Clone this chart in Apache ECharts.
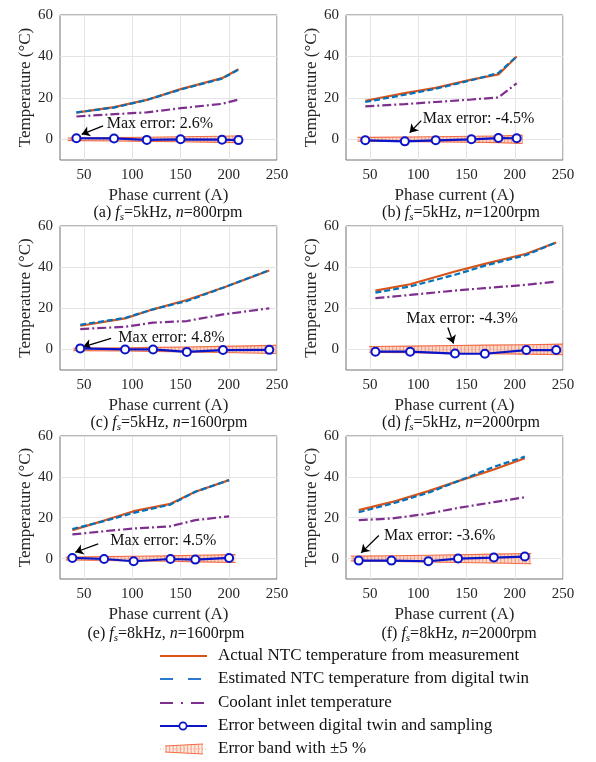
<!DOCTYPE html>
<html><head><meta charset="utf-8">
<script src="https://cdn.jsdelivr.net/npm/echarts@6/dist/echarts.min.js"></script>
<style>html,body{margin:0;padding:0;background:#fff}#c{width:596px;height:762px}</style>
</head><body><div id="c"></div>
<script>
// ---------- tick labels ----------
const xTicks = [50, 100, 150, 200, 250];
const yTicks = [0, 20, 40, 60];

// ---------- captions / annotations ----------
const panelLabels = ['a', 'b', 'c', 'd', 'e', 'f'];
const switchFreq = ['5kHz', '5kHz', '5kHz', '5kHz', '8kHz', '8kHz'];
const speeds = ['800rpm', '1200rpm', '1600rpm', '2000rpm', '1600rpm', '2000rpm'];
const maxErrors = ['2.6%', '-4.5%', '4.8%', '-4.3%', '4.5%', '-3.6%'];
const annoTextPos = [[73, 7.4], [104, 9.7], [85, 5.7], [87, 14.8], [76.5, 8.5], [63.8, 11.3]];
const annoArrowTail = [[69.7, 6.5], [103, 9], [78, 5.4], [130.6, 10.7], [64.6, 7.2], [59, 11.3]];
const annoArrowTip = [[47.5, 2.4], [91, 3.2], [49, 1.3], [136.5, 2.9], [40.8, 3.1], [40.7, 2.8]];

// ---------- (a) fs=5kHz, n=800rpm ----------
const currentA   = [42, 81, 115, 150, 193, 210];
const actualA    = [12.9, 15.5, 19, 24.2, 29.5, 33.8];
const estimatedA = [13, 15.3, 19, 24, 29.3, 33.6];
const coolantA   = [11, 12.1, 13, 15, 17.1, 19.2];
const errorA     = [0.5, 0.4, -0.3, 0, -0.2, -0.4];
const bandXA     = [33, 42, 81, 115, 150, 193, 214];
const bandHalfA  = [0.6, 0.65, 0.8, 1.0, 1.2, 1.5, 1.7];

// ---------- (b) fs=5kHz, n=1200rpm ----------
const currentB   = [45, 86, 118, 155, 183, 202];
const actualB    = [18.6, 22.3, 24.8, 28.8, 31.3, 40];
const estimatedB = [18, 21.5, 24.4, 28.5, 32, 40];
const coolantB   = [15.9, 17, 18, 19.2, 20.2, 27];
const errorB     = [-0.5, -1, -0.5, 0, 0.6, 0.5];
const bandXB     = [37, 45, 86, 118, 155, 183, 208];
const bandHalfB  = [0.9, 0.93, 1.1, 1.25, 1.45, 1.6, 2.0];

// ---------- (c) fs=5kHz, n=1600rpm ----------
const currentC   = [46, 92.5, 121.5, 156.5, 194, 242];
const actualC    = [11.5, 15.1, 19.5, 24, 30, 38.4];
const estimatedC = [12, 15.3, 19.5, 23.5, 30, 38.5];
const coolantC   = [9.9, 11, 13, 13.8, 17, 20];
const errorC     = [0.5, 0, 0, -1.2, -0.3, -0.2];
const bandXC     = [39, 46, 92.5, 121.5, 156.5, 194, 249];
const bandHalfC  = [0.6, 0.6, 0.75, 1.0, 1.2, 1.5, 1.95];

// ---------- (d) fs=5kHz, n=2000rpm ----------
const currentD   = [55.5, 91.5, 138, 169, 212, 243];
const actualD    = [28.6, 31.7, 37.9, 41.6, 46.5, 52];
const estimatedD = [27.6, 30.6, 36.3, 40.7, 45.9, 52];
const coolantD   = [24.9, 26.5, 28.6, 29.8, 31.4, 33];
const errorD     = [-1.1, -1.1, -2, -2.1, -0.3, -0.3];
const bandXD     = [49, 55.5, 91.5, 138, 169, 212, 250];
const bandHalfD  = [1.4, 1.43, 1.6, 1.9, 2.1, 2.3, 2.6];

// ---------- (e) fs=8kHz, n=1600rpm ----------
const currentE   = [37.8, 70.7, 101.4, 139.5, 165.3, 200.3];
const actualE    = [13.9, 18.6, 23.2, 26.8, 32.7, 38.4];
const estimatedE = [14.5, 18.3, 22.4, 26.4, 32.7, 38.4];
const coolantE   = [11.8, 13.4, 14.7, 15.8, 18.8, 20.7];
const errorE     = [0.3, -0.2, -1.3, -0.2, -0.5, 0.3];
const bandXE     = [31, 37.8, 70.7, 101.4, 139.5, 165.3, 207];
const bandHalfE  = [0.7, 0.7, 0.93, 1.16, 1.34, 1.64, 1.92];

// ---------- (f) fs=8kHz, n=2000rpm ----------
const currentF   = [38.2, 72.1, 110.4, 141.2, 178.3, 210.4];
const actualF    = [23.7, 27.6, 33, 37.9, 43.6, 49.1];
const estimatedF = [22.7, 26.8, 32.2, 37.9, 44.9, 49.9];
const coolantF   = [18.8, 19.6, 22, 24.8, 27.6, 30];
const errorF     = [-1, -1, -1.3, 0, 0.5, 1];
const bandXF     = [30, 38.2, 72.1, 110.4, 141.2, 178.3, 217];
const bandHalfF  = [1.2, 1.2, 1.4, 1.65, 1.9, 2.2, 2.5];

const legendNames = [
  'Actual NTC temperature from measurement',
  'Estimated NTC temperature from digital twin',
  'Coolant inlet temperature',
  'Error between digital twin and sampling',
  'Error band with \u00b15 %'
];

// ---------- assemble ----------
const panels = [
  {x: currentA, act: actualA, est: estimatedA, cool: coolantA, err: errorA, bx: bandXA, bh: bandHalfA},
  {x: currentB, act: actualB, est: estimatedB, cool: coolantB, err: errorB, bx: bandXB, bh: bandHalfB},
  {x: currentC, act: actualC, est: estimatedC, cool: coolantC, err: errorC, bx: bandXC, bh: bandHalfC},
  {x: currentD, act: actualD, est: estimatedD, cool: coolantD, err: errorD, bx: bandXD, bh: bandHalfD},
  {x: currentE, act: actualE, est: estimatedE, cool: coolantE, err: errorE, bx: bandXE, bh: bandHalfE},
  {x: currentF, act: actualF, est: estimatedF, cool: coolantF, err: errorF, bx: bandXF, bh: bandHalfF}
];

const FONT = '"Liberation Serif","Times New Roman",serif';
const C_ACT = '#D95319', C_EST = '#0072BD', C_COOL = '#7E2F8E', C_ERR = '#0A14C8', C_BAND = '#F26B43';
const gridLeft = [60, 346, 60, 346, 60, 346];
const gridTop = [15, 15, 226, 226, 436, 436];
const gridH = [145, 145, 144, 144, 143, 143];
const gridW = 217;
const capX = [168, 461, 169, 461, 166, 459];
const capY = [203, 203, 413, 413, 624, 624];

const zip = (a, b) => a.map((v, k) => [v, b[k]]);

const grids = [], xAxes = [], yAxes = [], series = [], titles = [];

panels.forEach((p, i) => {
  grids.push({left: gridLeft[i], top: gridTop[i], width: gridW, height: gridH[i],
    show: true, borderColor: '#707070', borderWidth: 1, backgroundColor: 'transparent'});
  xAxes.push({type: 'value', gridIndex: i, min: 25, max: 250,
    axisLine: {show: false}, axisTick: {show: false, customValues: xTicks},
    axisLabel: {customValues: xTicks, fontFamily: FONT, fontSize: 15, color: '#262626', margin: 8},
    splitLine: {show: true, lineStyle: {color: '#e4e4e4', width: 1}},
    name: 'Phase current (A)', nameLocation: 'middle', nameGap: 27,
    nameTextStyle: {fontFamily: FONT, fontSize: 17, color: '#262626'}});
  yAxes.push({type: 'value', gridIndex: i, min: -10, max: 60,
    axisLine: {show: false}, axisTick: {show: false, customValues: yTicks},
    axisLabel: {customValues: yTicks, fontFamily: FONT, fontSize: 15, color: '#262626', margin: 7},
    splitLine: {show: true, lineStyle: {color: '#e4e4e4', width: 1}},
    name: 'Temperature (\u00b0C)', nameLocation: 'middle', nameGap: 23,
    nameTextStyle: {fontFamily: FONT, fontSize: 17, color: '#262626'}});

  // error band (+/-5 %) with hatching
  const n = p.bx.length;
  series.push({
    type: 'custom', xAxisIndex: i, yAxisIndex: i, z: 1, silent: true,
    data: zip(p.bx, p.bh),
    encode: {x: 0, y: 1},
    renderItem: (params, api) => {
      const k = params.dataIndex;
      if (k >= n - 1) return null;
      const x0 = p.bx[k], x1 = p.bx[k + 1], h0 = p.bh[k], h1 = p.bh[k + 1];
      const a = api.coord([x0, h0]), b = api.coord([x0, -h0]);
      const c = api.coord([x1, h1]), d = api.coord([x1, -h1]);
      const children = [
        {type: 'polygon', shape: {points: [a, c, d, b]}, style: {fill: 'rgba(248,170,140,0.45)'}},
        {type: 'line', shape: {x1: a[0], y1: a[1], x2: c[0], y2: c[1]}, style: {stroke: C_BAND, lineWidth: 1.1}},
        {type: 'line', shape: {x1: b[0], y1: b[1], x2: d[0], y2: d[1]}, style: {stroke: C_BAND, lineWidth: 1.1}}
      ];
      const step = 3.6;
      const origin = gridLeft[i];
      let px = origin + Math.ceil((a[0] - origin) / step) * step;
      for (; px < c[0]; px += step) {
        const t = (px - a[0]) / (c[0] - a[0]);
        const top = a[1] + t * (c[1] - a[1]);
        const bot = b[1] + t * (d[1] - b[1]);
        children.push({type: 'line', shape: {x1: px, y1: top, x2: px, y2: bot},
          style: {stroke: 'rgba(242,107,67,0.85)', lineWidth: 0.7}});
      }
      return {type: 'group', children};
    }
  });
  series.push({type: 'line', xAxisIndex: i, yAxisIndex: i, z: 3, data: zip(p.x, p.cool),
    showSymbol: false, symbol: 'none', lineStyle: {color: C_COOL, width: 2.2, type: [9, 3, 2, 3]}});
  series.push({type: 'line', xAxisIndex: i, yAxisIndex: i, z: 4, data: zip(p.x, p.act),
    showSymbol: false, symbol: 'none', lineStyle: {color: C_ACT, width: 2.2}});
  series.push({type: 'line', xAxisIndex: i, yAxisIndex: i, z: 5, data: zip(p.x, p.est),
    showSymbol: false, symbol: 'none', lineStyle: {color: C_EST, width: 2.2, type: [6, 3]}});
  series.push({type: 'line', xAxisIndex: i, yAxisIndex: i, z: 6, data: zip(p.x, p.err),
    symbol: 'emptyCircle', symbolSize: 8, showSymbol: true,
    lineStyle: {color: C_ERR, width: 2.2},
    itemStyle: {color: C_ERR, borderColor: C_ERR, borderWidth: 1.8},
    markLine: {silent: true, symbol: ['none', 'arrow'], symbolSize: 8, animation: false,
      lineStyle: {color: '#000', width: 1.3, type: 'solid'}, label: {show: false},
      data: [[{coord: annoArrowTail[i]}, {coord: annoArrowTip[i]}]]},
    markPoint: {silent: true, animation: false,
      data: [{coord: annoTextPos[i], symbol: 'rect', symbolSize: 1,
        itemStyle: {color: 'rgba(0,0,0,0)'},
        label: {show: true, position: 'right', distance: 0, formatter: 'Max error: ' + maxErrors[i],
          fontFamily: FONT, fontSize: 16, color: '#111'}}]}
  });

  const base = {fontFamily: FONT, fontSize: 16, fontWeight: 'normal', color: '#111', lineHeight: 20};
  titles.push({
    left: capX[i], top: capY[i], textAlign: 'center', padding: 0,
    text: `{n|(${panelLabels[i]}) }{i|f}{s|s}{n|=${switchFreq[i]}, }{i|n}{n|=${speeds[i]}}`,
    textStyle: {fontWeight: 'normal', fontFamily: FONT, rich: {
      n: base,
      i: Object.assign({}, base, {fontStyle: 'italic'}),
      s: {fontFamily: FONT, fontSize: 11, fontWeight: 'normal', fontStyle: 'italic', color: '#111', lineHeight: 12, verticalAlign: 'bottom'}
    }}
  });
});

// ---------- legend (graphic) ----------
const rowY = [656, 679, 703, 726, 749];
const lx1 = 160, lx2 = 207, tx = 218;
const g = [];
g.push({type: 'line', shape: {x1: lx1, y1: rowY[0], x2: lx2, y2: rowY[0]}, style: {stroke: C_ACT, lineWidth: 2}});
g.push({type: 'line', shape: {x1: lx1, y1: rowY[1], x2: lx2, y2: rowY[1]}, style: {stroke: '#2a78d0', lineWidth: 2, lineDash: [13, 15]}});
g.push({type: 'line', shape: {x1: lx1, y1: rowY[2], x2: lx2, y2: rowY[2]}, style: {stroke: C_COOL, lineWidth: 2, lineDash: [13, 8, 2, 8]}});
g.push({type: 'line', shape: {x1: lx1, y1: rowY[3], x2: lx2, y2: rowY[3]}, style: {stroke: C_ERR, lineWidth: 2}});
g.push({type: 'circle', shape: {cx: 183, cy: rowY[3], r: 3.6}, style: {fill: '#fff', stroke: C_ERR, lineWidth: 1.7}});
// band icon
const by = rowY[4];
g.push({type: 'line', shape: {x1: lx1, y1: by, x2: lx2, y2: by}, style: {stroke: 'rgba(242,107,67,0.6)', lineWidth: 1, lineDash: [1, 2]}});
g.push({type: 'polygon', shape: {points: [[165, by - 3], [203, by - 5], [203, by + 5], [165, by + 3]]}, style: {fill: 'rgba(248,180,150,0.3)'}});
g.push({type: 'polyline', shape: {points: [[165, by - 3], [203, by - 5]]}, style: {stroke: C_BAND, lineWidth: 1}});
g.push({type: 'polyline', shape: {points: [[165, by + 3], [203, by + 5]]}, style: {stroke: C_BAND, lineWidth: 1}});
for (let px = 166; px <= 202; px += 3.6) {
  const h = 3 + (px - 165) / 38 * 2;
  g.push({type: 'line', shape: {x1: px, y1: by - h, x2: px, y2: by + h}, style: {stroke: 'rgba(242,107,67,0.8)', lineWidth: 0.7}});
}
legendNames.forEach((t, k) => {
  g.push({type: 'text', x: tx, y: rowY[k], style: {text: t, fontFamily: FONT, fontSize: 17, fill: '#111', verticalAlign: 'middle', align: 'left'}});
});

const chart = echarts.init(document.getElementById('c'), null, {renderer: 'canvas'});
chart.setOption({
  animation: false,
  backgroundColor: '#fff',
  title: titles,
  grid: grids,
  xAxis: xAxes,
  yAxis: yAxes,
  series: series,
  graphic: g
});
</script>
</body></html>
